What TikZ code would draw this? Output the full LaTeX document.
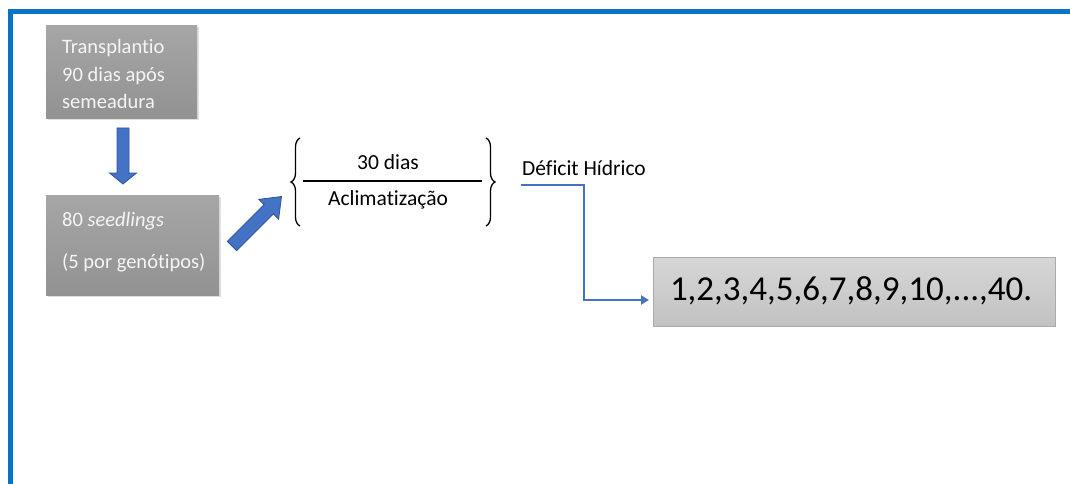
\documentclass[tikz,border=0pt]{standalone}
\usepackage{fontspec}
\setmainfont{Carlito}[Ligatures=NoCommon]
\usetikzlibrary{decorations.pathreplacing,arrows.meta,shadows}
\definecolor{framec}{RGB}{8,114,196}
\definecolor{arrowfill}{RGB}{68,114,196}
\definecolor{arrowedge}{RGB}{47,85,151}
\definecolor{boxtop}{RGB}{166,166,166}
\definecolor{boxbot}{RGB}{146,146,146}
\definecolor{lighttop}{RGB}{214,214,214}
\definecolor{lightbot}{RGB}{194,194,194}
\definecolor{lightedge}{RGB}{170,170,170}
\definecolor{boxtext}{RGB}{245,245,245}
\tikzset{
  darkbox/.style={anchor=north west, inner sep=0pt,
    top color=boxtop, bottom color=boxbot, draw=none,
    drop shadow={opacity=0.25, shadow xshift=1.5pt, shadow yshift=-2pt}},
  boxlabel/.style={anchor=west, inner sep=0pt, align=left, text=boxtext},
  lightbox/.style={anchor=north west, inner sep=0pt,
    top color=lighttop, bottom color=lightbot, draw=lightedge, line width=1pt},
  plain/.style={inner sep=0pt, font=\fontsize{21.5}{24}\selectfont},
  blockarrow/.style={fill=arrowfill, draw=arrowedge, line width=0.8pt, line join=miter},
  bracket/.style={decorate, decoration={brace, amplitude=9pt}, line width=1.3pt},
  link/.style={draw=arrowfill, line width=2.4pt, -{Triangle[length=8pt,width=9pt]}}
}
\begin{document}
\begin{tikzpicture}[x=1pt,y=-1pt]
  \useasboundingbox (0,0) rectangle (1070,484);
  % frame
  \fill[framec] (8,9) rectangle (1070,14);
  \fill[framec] (8,9) rectangle (13,484);

  % boxes
  \node[darkbox, minimum width=151pt, minimum height=93pt] (trans) at (46,25) {};
  \node[boxlabel, font=\fontsize{20.5}{27.5}\selectfont] (transtxt) at (62,74)
        {Transplantio\\90 dias após\\semeadura};
  \node[darkbox, minimum width=173pt, minimum height=100pt] (seed) at (46,195) {};
  \node[boxlabel, font=\fontsize{20.5}{42}\selectfont] (seedtxt) at (62,242)
        {80 \textit{seedlings}\\(5 por genótipos)};
  \node[lightbox, minimum width=402pt, minimum height=69pt] (plants) at (653,257) {};
  \node[inner sep=0pt, font=\fontsize{35}{40}\selectfont] (plantstxt) at (851,291)
        {1,2,3,4,5,6,7,8,9,10,...,40.};

  % down block arrow
  \begin{scope}[shift={(123,128)}, rotate=-90]
    \path[blockarrow] (0,-6) -- (45,-6) -- (45,-13.5) -- (56,0) -- (45,13.5)
      -- (45,6) -- (0,6) -- cycle;
  \end{scope}
  % diagonal block arrow
  \begin{scope}[shift={(232,246)}, rotate=45]
    \path[blockarrow] (0,-6.5) -- (52,-6.5) -- (52,-14) -- (70,0) -- (52,14)
      -- (52,6.5) -- (0,6.5) -- cycle;
  \end{scope}

  % acclimatization bracket
  \node[plain] (dias) at (388,162) {30 dias};
  \node[plain] (acl) at (388,200) {Aclimatização};
  \coordinate (rl) at (303,181);
  \coordinate (rr) at (482,181);
  \draw[line width=1.2pt] (rl) -- (rr);
  \coordinate (lb1) at (300,226);
  \coordinate (lb2) at (300,138);
  \coordinate (rb1) at (486,138);
  \coordinate (rb2) at (486,226);
  \draw[bracket] (lb1) -- (lb2);
  \draw[bracket] (rb1) -- (rb2);

  % water deficit
  \node[plain, anchor=west] (deficit) at (522,168) {Déficit Hídrico};
  \coordinate (dstart) at (521,185);
  \coordinate (bend) at (584,185);
  \coordinate (bend2) at (584,300);
  \coordinate (dend) at (plants.west |- bend2);
  \draw[link, shorten >=4pt] (dstart) -- (bend) -- (bend2) -- (dend);
\end{tikzpicture}
\end{document}
